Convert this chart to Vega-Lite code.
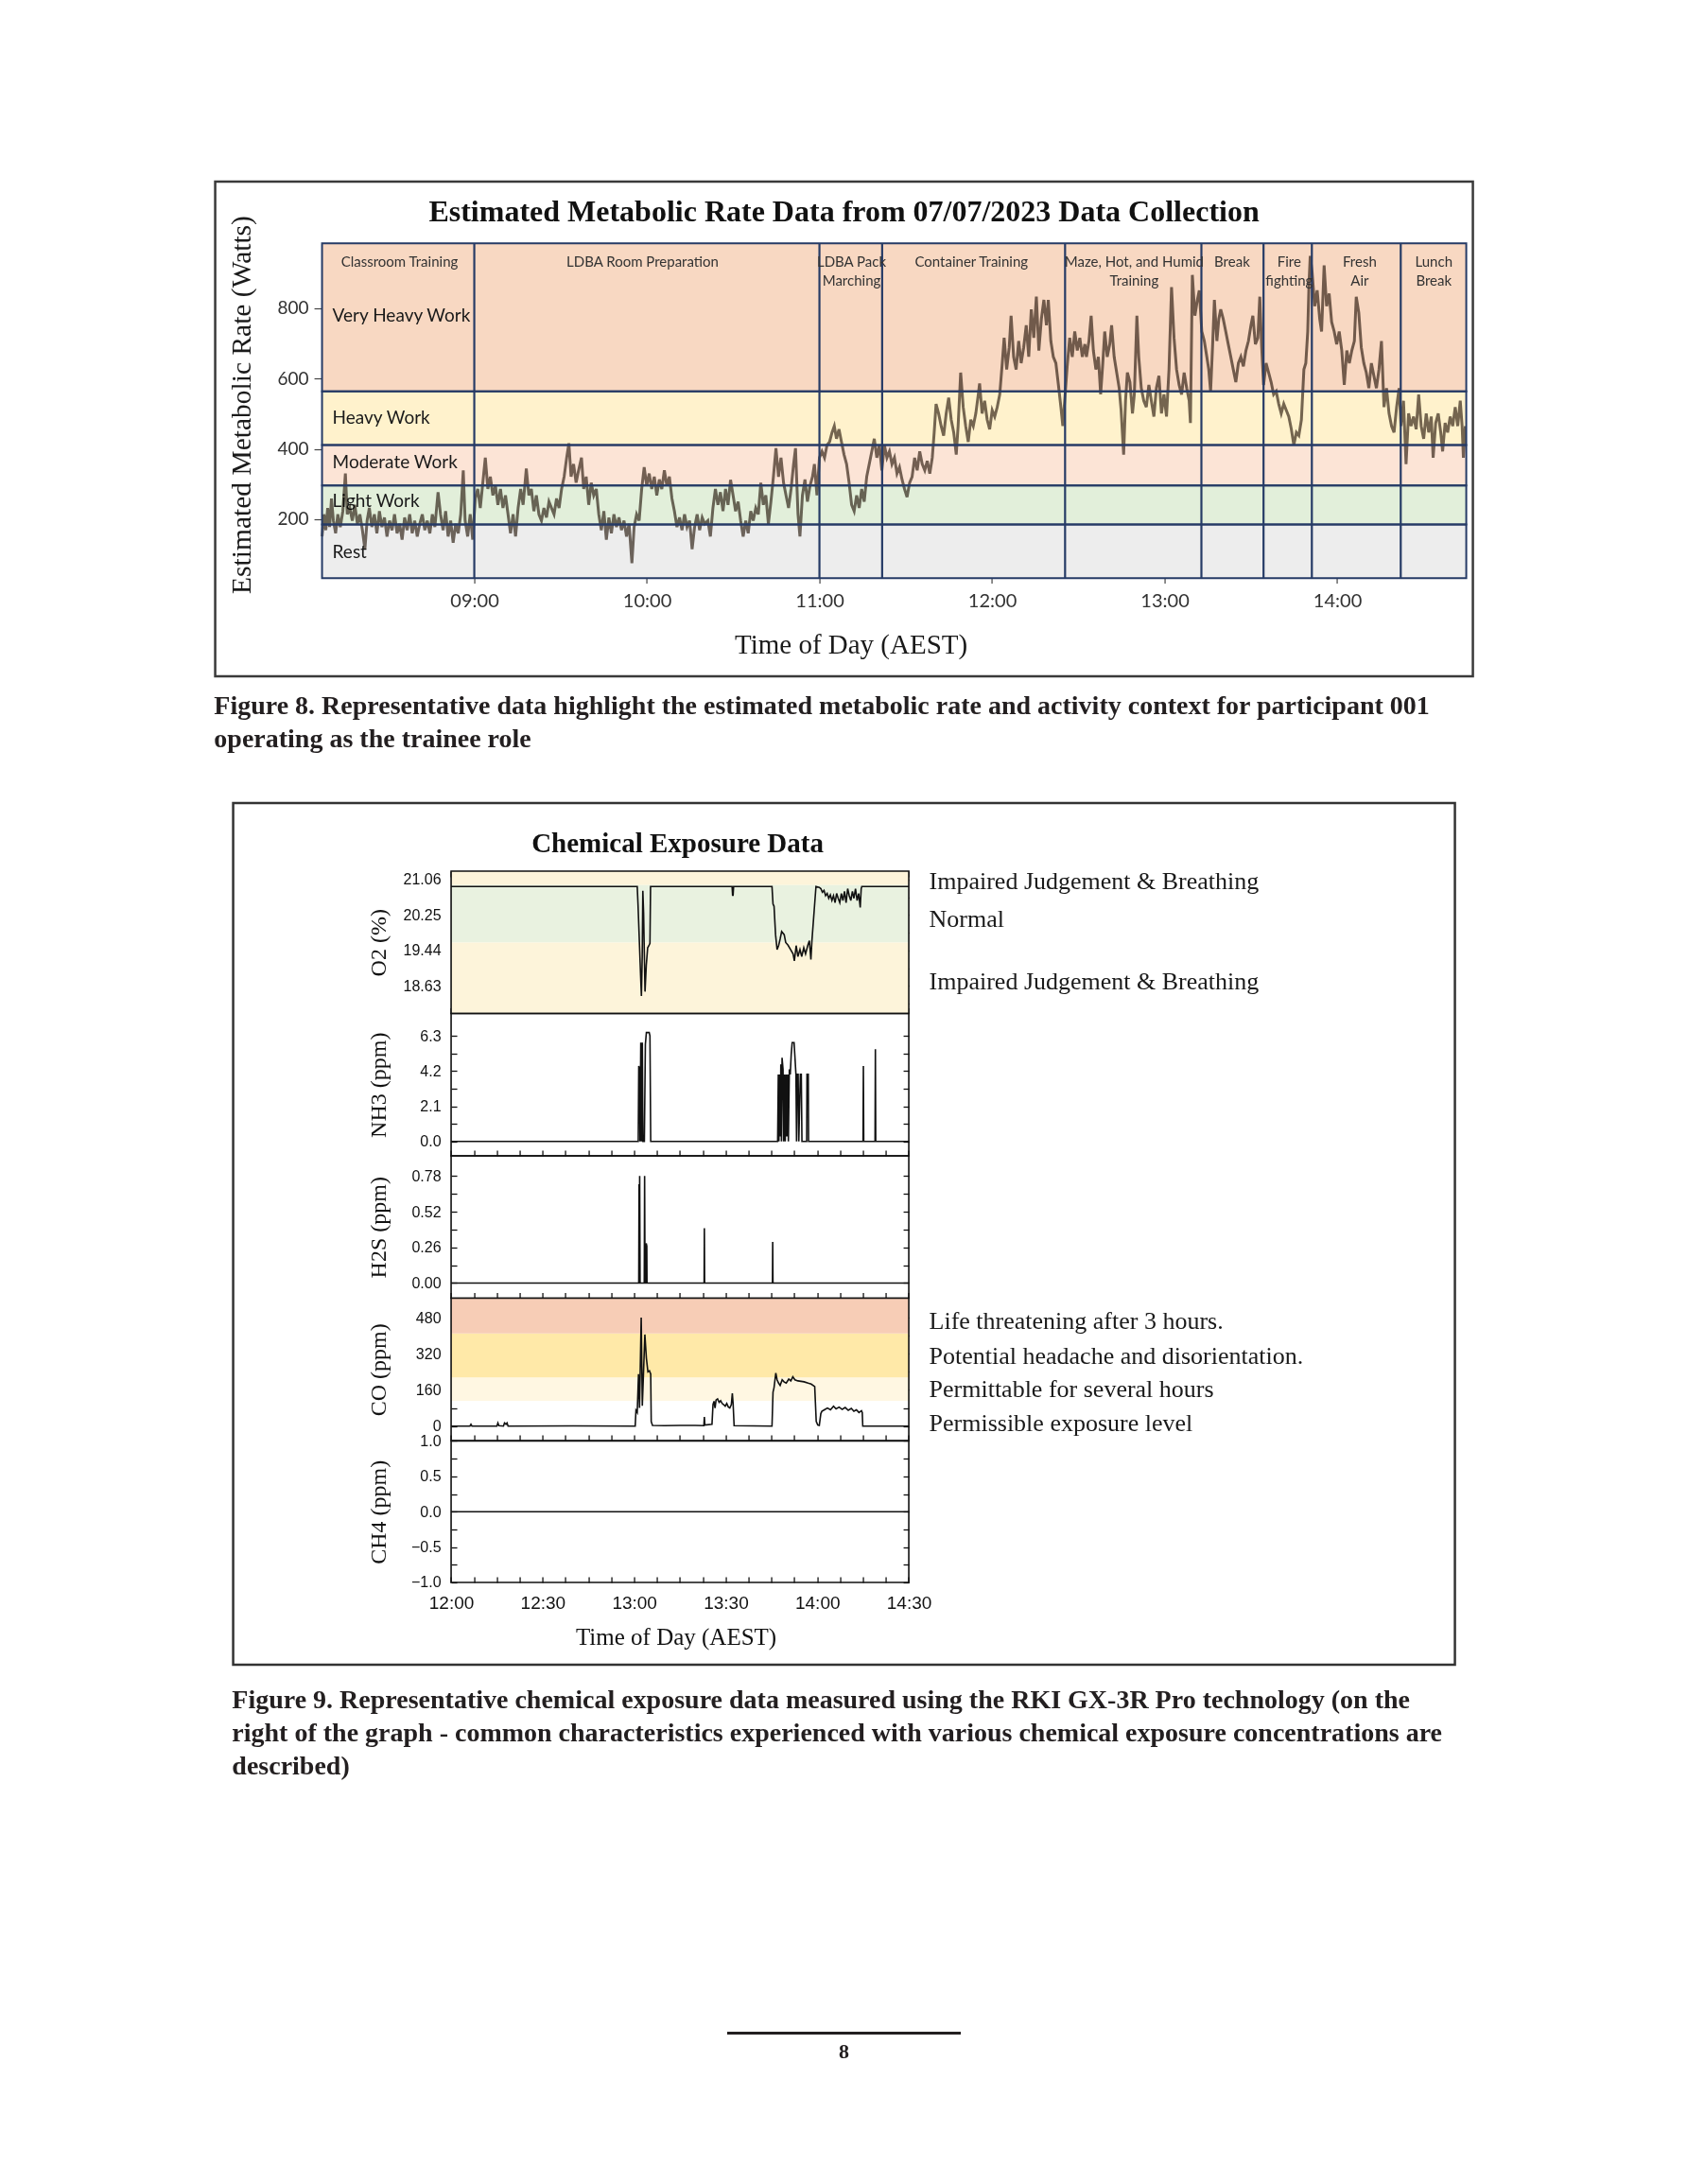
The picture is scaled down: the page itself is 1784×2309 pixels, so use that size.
{
"$schema":"https://vega.github.io/schema/vega-lite/v6.json",
"background":"white",
"padding":{"left":226,"top":190,"right":0,"bottom":0},
"config":{"view":{"stroke":null},"axis":{"grid":false,"domain":false,"labelFlush":false,"labelOverlap":false}},
"datasets":{
"zones":[{"zone":"Rest","lo":32.6,"hi":185,"lw":106},{"zone":"Light Work","lo":185,"hi":296,"lw":251},{"zone":"Moderate Work","lo":296,"hi":411,"lw":362},{"zone":"Heavy Work","lo":411,"hi":563.6,"lw":487},{"zone":"Very Heavy Work","lo":563.6,"hi":985,"lw":779}],
"actbounds":[{"t":"09:00:00"},{"t":"11:00:00"},{"t":"11:21:48"},{"t":"12:25:24"},{"t":"13:12:48"},{"t":"13:34:24"},{"t":"13:51:12"},{"t":"14:22:06"}],
"actlabels":[{"t":"08:34:00","lab":"Classroom Training"},{"t":"09:58:30","lab":"LDBA Room Preparation"},{"t":"11:11:10","lab":"LDBA Pack\nMarching"},{"t":"11:52:50","lab":"Container Training"},{"t":"12:49:25","lab":"Maze, Hot, and Humid\nTraining"},{"t":"13:23:28","lab":"Break"},{"t":"13:43:20","lab":"Fire\nfighting"},{"t":"14:07:50","lab":"Fresh\nAir"},{"t":"14:33:36","lab":"Lunch\nBreak"}],
"metab":[{"t":"08:07:04","w":151},{"t":"08:07:44","w":214},{"t":"08:08:23","w":169},{"t":"08:09:02","w":232},{"t":"08:09:42","w":178},{"t":"08:10:21","w":259},{"t":"08:11:01","w":196},{"t":"08:11:47","w":160},{"t":"08:12:33","w":214},{"t":"08:13:25","w":178},{"t":"08:14:18","w":223},{"t":"08:15:11","w":330},{"t":"08:15:50","w":214},{"t":"08:16:43","w":232},{"t":"08:17:35","w":196},{"t":"08:18:28","w":241},{"t":"08:19:21","w":187},{"t":"08:20:13","w":214},{"t":"08:21:06","w":169},{"t":"08:21:58","w":115},{"t":"08:22:44","w":196},{"t":"08:23:30","w":232},{"t":"08:24:23","w":178},{"t":"08:25:16","w":214},{"t":"08:26:08","w":160},{"t":"08:27:01","w":223},{"t":"08:27:53","w":178},{"t":"08:28:46","w":205},{"t":"08:29:39","w":151},{"t":"08:30:31","w":196},{"t":"08:31:24","w":169},{"t":"08:32:16","w":214},{"t":"08:33:09","w":160},{"t":"08:34:02","w":187},{"t":"08:34:54","w":142},{"t":"08:35:47","w":205},{"t":"08:36:39","w":169},{"t":"08:37:32","w":214},{"t":"08:38:25","w":160},{"t":"08:39:17","w":196},{"t":"08:40:10","w":151},{"t":"08:41:02","w":187},{"t":"08:41:55","w":214},{"t":"08:42:48","w":169},{"t":"08:43:40","w":196},{"t":"08:44:33","w":160},{"t":"08:45:25","w":214},{"t":"08:46:18","w":178},{"t":"08:47:24","w":277},{"t":"08:48:16","w":214},{"t":"08:49:09","w":169},{"t":"08:50:02","w":223},{"t":"08:50:54","w":151},{"t":"08:51:47","w":196},{"t":"08:52:39","w":133},{"t":"08:53:32","w":187},{"t":"08:54:25","w":160},{"t":"08:55:17","w":214},{"t":"08:56:10","w":339},{"t":"08:56:49","w":196},{"t":"08:57:42","w":151},{"t":"08:58:35","w":214},{"t":"08:59:27","w":142},{"t":"09:00:20","w":259},{"t":"09:01:12","w":286},{"t":"09:02:05","w":232},{"t":"09:02:58","w":304},{"t":"09:03:50","w":375},{"t":"09:04:43","w":286},{"t":"09:05:35","w":321},{"t":"09:06:28","w":268},{"t":"09:07:21","w":295},{"t":"09:08:13","w":241},{"t":"09:09:06","w":286},{"t":"09:09:58","w":232},{"t":"09:10:51","w":268},{"t":"09:11:44","w":214},{"t":"09:12:36","w":160},{"t":"09:13:29","w":214},{"t":"09:14:21","w":151},{"t":"09:15:14","w":232},{"t":"09:16:07","w":286},{"t":"09:16:59","w":241},{"t":"09:18:05","w":344},{"t":"09:18:58","w":268},{"t":"09:19:50","w":286},{"t":"09:20:43","w":223},{"t":"09:21:35","w":268},{"t":"09:22:28","w":214},{"t":"09:23:21","w":196},{"t":"09:24:13","w":232},{"t":"09:25:06","w":205},{"t":"09:25:58","w":250},{"t":"09:26:51","w":232},{"t":"09:27:44","w":214},{"t":"09:28:36","w":259},{"t":"09:29:29","w":232},{"t":"09:30:21","w":286},{"t":"09:31:14","w":321},{"t":"09:32:07","w":375},{"t":"09:32:53","w":416},{"t":"09:33:39","w":321},{"t":"09:34:31","w":357},{"t":"09:35:24","w":304},{"t":"09:36:16","w":339},{"t":"09:37:16","w":375},{"t":"09:38:02","w":286},{"t":"09:38:54","w":321},{"t":"09:39:47","w":241},{"t":"09:40:39","w":304},{"t":"09:41:32","w":268},{"t":"09:42:25","w":286},{"t":"09:43:17","w":214},{"t":"09:44:10","w":169},{"t":"09:45:03","w":223},{"t":"09:45:55","w":142},{"t":"09:46:48","w":205},{"t":"09:47:40","w":160},{"t":"09:48:33","w":214},{"t":"09:49:26","w":178},{"t":"09:50:18","w":205},{"t":"09:51:11","w":169},{"t":"09:52:03","w":196},{"t":"09:52:56","w":151},{"t":"09:53:49","w":187},{"t":"09:54:48","w":75},{"t":"09:55:34","w":178},{"t":"09:56:26","w":214},{"t":"09:57:19","w":196},{"t":"09:58:12","w":286},{"t":"09:59:04","w":348},{"t":"09:59:57","w":295},{"t":"10:00:49","w":330},{"t":"10:01:42","w":286},{"t":"10:02:35","w":321},{"t":"10:03:27","w":268},{"t":"10:04:20","w":313},{"t":"10:05:12","w":286},{"t":"10:06:05","w":339},{"t":"10:06:58","w":295},{"t":"10:07:50","w":321},{"t":"10:08:43","w":259},{"t":"10:09:35","w":223},{"t":"10:10:28","w":178},{"t":"10:11:21","w":205},{"t":"10:12:13","w":169},{"t":"10:13:06","w":214},{"t":"10:13:58","w":178},{"t":"10:14:51","w":196},{"t":"10:15:44","w":115},{"t":"10:16:36","w":178},{"t":"10:17:29","w":214},{"t":"10:18:21","w":169},{"t":"10:19:14","w":205},{"t":"10:20:07","w":187},{"t":"10:21:13","w":196},{"t":"10:22:05","w":151},{"t":"10:22:58","w":232},{"t":"10:23:50","w":286},{"t":"10:24:43","w":241},{"t":"10:25:35","w":277},{"t":"10:26:28","w":223},{"t":"10:27:21","w":286},{"t":"10:28:13","w":241},{"t":"10:29:06","w":312},{"t":"10:29:59","w":268},{"t":"10:30:51","w":223},{"t":"10:31:44","w":250},{"t":"10:32:37","w":196},{"t":"10:33:29","w":151},{"t":"10:34:22","w":196},{"t":"10:35:14","w":160},{"t":"10:36:07","w":223},{"t":"10:36:59","w":196},{"t":"10:37:52","w":232},{"t":"10:38:44","w":214},{"t":"10:39:37","w":304},{"t":"10:40:30","w":241},{"t":"10:41:22","w":268},{"t":"10:42:15","w":187},{"t":"10:43:08","w":250},{"t":"10:44:00","w":321},{"t":"10:44:53","w":402},{"t":"10:45:46","w":321},{"t":"10:46:38","w":375},{"t":"10:47:31","w":304},{"t":"10:48:23","w":268},{"t":"10:49:16","w":232},{"t":"10:50:08","w":286},{"t":"10:51:01","w":357},{"t":"10:51:41","w":402},{"t":"10:52:33","w":214},{"t":"10:53:13","w":151},{"t":"10:54:05","w":268},{"t":"10:54:58","w":313},{"t":"10:55:50","w":250},{"t":"10:56:43","w":295},{"t":"10:57:35","w":321},{"t":"10:58:15","w":357},{"t":"10:59:08","w":268},{"t":"11:00:00","w":375},{"t":"11:00:53","w":393},{"t":"11:01:46","w":375},{"t":"11:02:38","w":411},{"t":"11:03:31","w":420},{"t":"11:04:23","w":447},{"t":"11:05:10","w":465},{"t":"11:05:55","w":429},{"t":"11:06:48","w":456},{"t":"11:07:40","w":420},{"t":"11:08:33","w":384},{"t":"11:09:26","w":357},{"t":"11:10:19","w":304},{"t":"11:11:11","w":241},{"t":"11:12:04","w":223},{"t":"11:12:56","w":268},{"t":"11:13:49","w":232},{"t":"11:14:41","w":286},{"t":"11:15:34","w":250},{"t":"11:16:26","w":321},{"t":"11:17:19","w":357},{"t":"11:18:12","w":393},{"t":"11:19:04","w":429},{"t":"11:19:57","w":375},{"t":"11:20:50","w":411},{"t":"11:21:42","w":339},{"t":"11:22:35","w":411},{"t":"11:23:28","w":375},{"t":"11:24:20","w":393},{"t":"11:25:13","w":357},{"t":"11:26:05","w":375},{"t":"11:26:58","w":330},{"t":"11:27:50","w":348},{"t":"11:28:43","w":313},{"t":"11:29:35","w":286},{"t":"11:30:28","w":263},{"t":"11:31:21","w":304},{"t":"11:32:13","w":321},{"t":"11:33:06","w":375},{"t":"11:33:59","w":339},{"t":"11:34:52","w":393},{"t":"11:35:44","w":357},{"t":"11:36:37","w":339},{"t":"11:37:29","w":366},{"t":"11:38:22","w":330},{"t":"11:39:14","w":375},{"t":"11:39:54","w":447},{"t":"11:40:33","w":528},{"t":"11:41:26","w":501},{"t":"11:42:19","w":465},{"t":"11:43:11","w":438},{"t":"11:44:04","w":501},{"t":"11:44:56","w":546},{"t":"11:45:49","w":483},{"t":"11:46:41","w":447},{"t":"11:47:34","w":384},{"t":"11:48:13","w":465},{"t":"11:49:06","w":617},{"t":"11:49:59","w":519},{"t":"11:50:51","w":465},{"t":"11:51:44","w":420},{"t":"11:52:37","w":483},{"t":"11:53:29","w":465},{"t":"11:54:22","w":501},{"t":"11:55:14","w":555},{"t":"11:55:41","w":586},{"t":"11:56:33","w":501},{"t":"11:57:26","w":537},{"t":"11:58:19","w":483},{"t":"11:59:11","w":456},{"t":"12:00:04","w":510},{"t":"12:00:56","w":492},{"t":"12:01:49","w":519},{"t":"12:02:41","w":555},{"t":"12:03:34","w":644},{"t":"12:04:13","w":716},{"t":"12:05:06","w":626},{"t":"12:05:59","w":689},{"t":"12:06:38","w":779},{"t":"12:07:31","w":662},{"t":"12:08:23","w":626},{"t":"12:09:16","w":707},{"t":"12:10:08","w":644},{"t":"12:11:01","w":689},{"t":"12:11:54","w":752},{"t":"12:12:46","w":662},{"t":"12:13:39","w":797},{"t":"12:14:32","w":716},{"t":"12:15:25","w":833},{"t":"12:16:17","w":680},{"t":"12:17:10","w":770},{"t":"12:18:02","w":824},{"t":"12:18:55","w":752},{"t":"12:19:34","w":824},{"t":"12:20:27","w":707},{"t":"12:21:19","w":662},{"t":"12:22:12","w":644},{"t":"12:23:05","w":582},{"t":"12:23:57","w":519},{"t":"12:24:37","w":465},{"t":"12:25:16","w":537},{"t":"12:26:08","w":635},{"t":"12:27:01","w":716},{"t":"12:27:54","w":662},{"t":"12:28:46","w":734},{"t":"12:29:39","w":680},{"t":"12:30:32","w":716},{"t":"12:31:24","w":662},{"t":"12:32:17","w":698},{"t":"12:32:50","w":662},{"t":"12:33:42","w":707},{"t":"12:34:28","w":779},{"t":"12:35:14","w":680},{"t":"12:36:07","w":626},{"t":"12:36:59","w":662},{"t":"12:37:46","w":555},{"t":"12:38:31","w":644},{"t":"12:39:11","w":734},{"t":"12:40:04","w":662},{"t":"12:40:56","w":698},{"t":"12:41:35","w":752},{"t":"12:42:28","w":662},{"t":"12:43:21","w":617},{"t":"12:44:13","w":573},{"t":"12:44:53","w":510},{"t":"12:45:46","w":384},{"t":"12:46:25","w":537},{"t":"12:47:04","w":617},{"t":"12:47:57","w":590},{"t":"12:48:50","w":501},{"t":"12:49:29","w":555},{"t":"12:50:22","w":779},{"t":"12:51:01","w":662},{"t":"12:51:54","w":573},{"t":"12:52:46","w":537},{"t":"12:53:39","w":519},{"t":"12:54:32","w":582},{"t":"12:55:24","w":537},{"t":"12:56:17","w":492},{"t":"12:57:09","w":573},{"t":"12:58:02","w":608},{"t":"12:58:55","w":501},{"t":"12:59:47","w":555},{"t":"13:00:40","w":492},{"t":"13:01:32","w":626},{"t":"13:02:25","w":860},{"t":"13:03:17","w":716},{"t":"13:04:10","w":626},{"t":"13:05:03","w":582},{"t":"13:05:55","w":555},{"t":"13:06:48","w":617},{"t":"13:07:41","w":573},{"t":"13:08:33","w":537},{"t":"13:08:59","w":474},{"t":"13:09:39","w":895},{"t":"13:10:32","w":779},{"t":"13:11:24","w":824},{"t":"13:12:04","w":851},{"t":"13:12:56","w":734},{"t":"13:13:49","w":707},{"t":"13:14:41","w":662},{"t":"13:15:21","w":626},{"t":"13:16:00","w":564},{"t":"13:16:40","w":689},{"t":"13:17:19","w":824},{"t":"13:18:11","w":707},{"t":"13:18:51","w":770},{"t":"13:19:31","w":797},{"t":"13:20:23","w":770},{"t":"13:21:16","w":734},{"t":"13:22:08","w":698},{"t":"13:23:01","w":662},{"t":"13:23:53","w":626},{"t":"13:24:46","w":590},{"t":"13:25:39","w":644},{"t":"13:26:31","w":662},{"t":"13:27:24","w":635},{"t":"13:28:17","w":680},{"t":"13:29:09","w":707},{"t":"13:30:02","w":752},{"t":"13:30:41","w":779},{"t":"13:31:34","w":698},{"t":"13:32:26","w":716},{"t":"13:33:06","w":833},{"t":"13:33:46","w":689},{"t":"13:34:25","w":582},{"t":"13:35:17","w":644},{"t":"13:36:10","w":617},{"t":"13:37:03","w":590},{"t":"13:37:55","w":555},{"t":"13:38:48","w":564},{"t":"13:39:41","w":528},{"t":"13:40:33","w":501},{"t":"13:41:26","w":528},{"t":"13:42:19","w":510},{"t":"13:43:11","w":492},{"t":"13:44:04","w":456},{"t":"13:44:56","w":411},{"t":"13:45:49","w":447},{"t":"13:46:41","w":438},{"t":"13:47:34","w":483},{"t":"13:48:26","w":626},{"t":"13:49:06","w":644},{"t":"13:49:46","w":734},{"t":"13:50:12","w":868},{"t":"13:50:38","w":949},{"t":"13:51:17","w":904},{"t":"13:52:10","w":806},{"t":"13:53:03","w":851},{"t":"13:53:56","w":770},{"t":"13:54:35","w":734},{"t":"13:55:28","w":922},{"t":"13:56:20","w":806},{"t":"13:57:13","w":842},{"t":"13:58:05","w":761},{"t":"13:58:58","w":734},{"t":"13:59:50","w":698},{"t":"14:00:43","w":734},{"t":"14:01:36","w":680},{"t":"14:02:28","w":582},{"t":"14:03:21","w":680},{"t":"14:04:14","w":644},{"t":"14:05:06","w":680},{"t":"14:05:59","w":707},{"t":"14:06:38","w":833},{"t":"14:07:31","w":788},{"t":"14:08:23","w":689},{"t":"14:09:16","w":644},{"t":"14:10:08","w":617},{"t":"14:11:01","w":573},{"t":"14:11:54","w":644},{"t":"14:12:46","w":608},{"t":"14:13:39","w":573},{"t":"14:14:32","w":626},{"t":"14:15:24","w":707},{"t":"14:16:17","w":519},{"t":"14:17:10","w":573},{"t":"14:18:02","w":501},{"t":"14:18:55","w":465},{"t":"14:19:47","w":447},{"t":"14:20:40","w":519},{"t":"14:21:32","w":573},{"t":"14:22:12","w":465},{"t":"14:23:04","w":537},{"t":"14:23:57","w":357},{"t":"14:24:50","w":501},{"t":"14:25:42","w":465},{"t":"14:26:35","w":492},{"t":"14:27:28","w":456},{"t":"14:28:20","w":555},{"t":"14:29:13","w":465},{"t":"14:30:05","w":429},{"t":"14:30:58","w":501},{"t":"14:31:50","w":447},{"t":"14:32:43","w":492},{"t":"14:33:22","w":375},{"t":"14:34:15","w":474},{"t":"14:35:08","w":501},{"t":"14:36:00","w":447},{"t":"14:36:40","w":393},{"t":"14:37:32","w":474},{"t":"14:38:25","w":447},{"t":"14:39:17","w":492},{"t":"14:40:10","w":465},{"t":"14:41:03","w":519},{"t":"14:41:55","w":465},{"t":"14:42:48","w":537},{"t":"14:43:27","w":465},{"t":"14:43:53","w":375},{"t":"14:44:33","w":465}],
"o2":[{"t":"12:00:00","v":20.9},{"t":"13:01:00","v":20.9},{"t":"13:01:15","v":20.5},{"t":"13:01:40","v":19.7},{"t":"13:02:05","v":18.9},{"t":"13:02:22","v":18.4},{"t":"13:02:38","v":19.3},{"t":"13:02:50","v":20.8},{"t":"13:03:05","v":20.3},{"t":"13:03:22","v":19.2},{"t":"13:03:33","v":18.5},{"t":"13:03:58","v":19.1},{"t":"13:04:25","v":19.5},{"t":"13:04:50","v":19.55},{"t":"13:05:10","v":19.6},{"t":"13:05:22","v":20.9},{"t":"13:32:05","v":20.9},{"t":"13:32:15","v":20.7},{"t":"13:32:25","v":20.7},{"t":"13:32:35","v":20.9},{"t":"13:45:10","v":20.9},{"t":"13:45:30","v":20.5},{"t":"13:45:50","v":20.45},{"t":"13:46:20","v":19.8},{"t":"13:46:50","v":19.46},{"t":"13:47:20","v":19.55},{"t":"13:47:50","v":19.7},{"t":"13:48:20","v":19.87},{"t":"13:49:10","v":19.8},{"t":"13:49:40","v":19.62},{"t":"13:50:25","v":19.56},{"t":"13:51:15","v":19.46},{"t":"13:52:05","v":19.36},{"t":"13:52:30","v":19.2},{"t":"13:53:05","v":19.55},{"t":"13:53:40","v":19.3},{"t":"13:54:20","v":19.46},{"t":"13:54:55","v":19.3},{"t":"13:55:35","v":19.5},{"t":"13:56:10","v":19.36},{"t":"13:56:55","v":19.56},{"t":"13:57:25","v":19.66},{"t":"13:57:55","v":19.23},{"t":"13:58:15","v":19.66},{"t":"13:59:00","v":20.36},{"t":"13:59:35","v":20.9},{"t":"14:00:40","v":20.88},{"t":"14:01:11","v":20.85},{"t":"14:01:41","v":20.77},{"t":"14:02:13","v":20.81},{"t":"14:02:44","v":20.69},{"t":"14:03:15","v":20.74},{"t":"14:03:46","v":20.63},{"t":"14:04:17","v":20.71},{"t":"14:04:48","v":20.58},{"t":"14:05:19","v":20.69},{"t":"14:05:50","v":20.53},{"t":"14:06:21","v":20.74},{"t":"14:06:52","v":20.63},{"t":"14:07:23","v":20.53},{"t":"14:07:54","v":20.74},{"t":"14:08:25","v":20.58},{"t":"14:08:56","v":20.79},{"t":"14:09:27","v":20.53},{"t":"14:09:58","v":20.85},{"t":"14:10:29","v":20.69},{"t":"14:11:00","v":20.58},{"t":"14:11:31","v":20.79},{"t":"14:12:01","v":20.63},{"t":"14:12:32","v":20.85},{"t":"14:13:04","v":20.58},{"t":"14:13:35","v":20.74},{"t":"14:14:05","v":20.42},{"t":"14:14:24","v":20.85},{"t":"14:14:36","v":20.9},{"t":"14:30:00","v":20.9}],
"nh3":[{"t":"12:00:00","v":0},{"t":"13:01:20","v":0},{"t":"13:01:30","v":4.5},{"t":"13:01:45","v":4.3},{"t":"13:01:55","v":0},{"t":"13:02:10","v":5.9},{"t":"13:02:22","v":0},{"t":"13:02:40","v":5.9},{"t":"13:02:52","v":0},{"t":"13:03:20","v":0},{"t":"13:03:40","v":5.8},{"t":"13:04:00","v":6.5},{"t":"13:04:55","v":6.5},{"t":"13:05:10","v":6.3},{"t":"13:05:25","v":0},{"t":"13:47:01","v":0},{"t":"13:47:14","v":4.0},{"t":"13:47:26","v":0},{"t":"13:47:39","v":4.0},{"t":"13:47:51","v":0.3},{"t":"13:48:04","v":4.6},{"t":"13:48:16","v":0},{"t":"13:48:28","v":5.0},{"t":"13:48:47","v":4.3},{"t":"13:48:59","v":0},{"t":"13:49:18","v":4.0},{"t":"13:49:30","v":0},{"t":"13:49:49","v":4.0},{"t":"13:50:01","v":0.3},{"t":"13:50:20","v":4.0},{"t":"13:50:32","v":0},{"t":"13:50:51","v":4.3},{"t":"13:51:09","v":4.0},{"t":"13:51:28","v":5.2},{"t":"13:51:47","v":5.9},{"t":"13:52:24","v":5.9},{"t":"13:52:42","v":5.0},{"t":"13:53:01","v":4.0},{"t":"13:53:13","v":0},{"t":"13:53:26","v":4.0},{"t":"13:53:44","v":4.0},{"t":"13:53:57","v":0},{"t":"13:54:28","v":4.0},{"t":"13:54:46","v":4.0},{"t":"13:54:59","v":0},{"t":"13:56:32","v":0},{"t":"13:56:38","v":4.0},{"t":"13:57:03","v":4.0},{"t":"13:57:09","v":0},{"t":"14:15:00","v":0},{"t":"14:15:07","v":4.5},{"t":"14:15:14","v":0},{"t":"14:18:56","v":0},{"t":"14:19:03","v":5.5},{"t":"14:19:10","v":0},{"t":"14:30:00","v":0}],
"h2s":[{"t":"12:00:00","v":0},{"t":"13:01:30","v":0},{"t":"13:01:36","v":0.72},{"t":"13:01:42","v":0.1},{"t":"13:01:48","v":0.78},{"t":"13:01:56","v":0},{"t":"13:03:18","v":0},{"t":"13:03:25","v":0.78},{"t":"13:03:33","v":0},{"t":"13:03:50","v":0},{"t":"13:03:56","v":0.29},{"t":"13:04:08","v":0.27},{"t":"13:04:12","v":0},{"t":"13:22:55","v":0},{"t":"13:23:00","v":0.4},{"t":"13:23:05","v":0},{"t":"13:45:19","v":0},{"t":"13:45:24","v":0.3},{"t":"13:45:29","v":0},{"t":"14:30:00","v":0}],
"co":[{"t":"12:00:00","v":0},{"t":"12:06:10","v":0},{"t":"12:06:30","v":8},{"t":"12:06:50","v":0},{"t":"12:15:00","v":0},{"t":"12:15:20","v":14},{"t":"12:15:40","v":2},{"t":"12:17:10","v":0},{"t":"12:17:30","v":14},{"t":"12:18:00","v":8},{"t":"12:18:20","v":14},{"t":"12:18:40","v":0},{"t":"12:40:00","v":1},{"t":"13:00:20","v":0},{"t":"13:00:35","v":70},{"t":"13:01:00","v":60},{"t":"13:01:25","v":230},{"t":"13:01:45","v":80},{"t":"13:02:18","v":480},{"t":"13:02:40","v":90},{"t":"13:03:30","v":405},{"t":"13:04:00","v":300},{"t":"13:04:30","v":240},{"t":"13:05:00","v":245},{"t":"13:05:25","v":230},{"t":"13:05:35","v":20},{"t":"13:06:00","v":3},{"t":"13:10:00","v":2},{"t":"13:15:00","v":3},{"t":"13:20:00","v":3},{"t":"13:22:50","v":2},{"t":"13:23:00","v":40},{"t":"13:23:10","v":5},{"t":"13:25:30","v":8},{"t":"13:25:50","v":95},{"t":"13:26:10","v":110},{"t":"13:26:30","v":80},{"t":"13:26:50","v":115},{"t":"13:27:20","v":120},{"t":"13:27:50","v":105},{"t":"13:28:20","v":112},{"t":"13:28:50","v":100},{"t":"13:29:20","v":95},{"t":"13:29:50","v":88},{"t":"13:30:20","v":100},{"t":"13:30:50","v":85},{"t":"13:31:20","v":80},{"t":"13:31:50","v":95},{"t":"13:32:10","v":145},{"t":"13:32:25","v":100},{"t":"13:32:45","v":2},{"t":"13:45:10","v":0},{"t":"13:45:30","v":150},{"t":"13:45:50","v":170},{"t":"13:46:25","v":235},{"t":"13:46:50","v":205},{"t":"13:47:20","v":190},{"t":"13:47:50","v":180},{"t":"13:48:30","v":205},{"t":"13:49:10","v":195},{"t":"13:49:50","v":190},{"t":"13:50:40","v":208},{"t":"13:51:20","v":200},{"t":"13:52:00","v":218},{"t":"13:52:40","v":205},{"t":"13:53:40","v":200},{"t":"13:54:40","v":198},{"t":"13:55:40","v":196},{"t":"13:57:00","v":190},{"t":"13:58:00","v":186},{"t":"13:59:10","v":175},{"t":"13:59:40","v":20},{"t":"14:00:10","v":5},{"t":"14:00:40","v":3},{"t":"14:01:10","v":55},{"t":"14:01:30","v":65},{"t":"14:02:20","v":72},{"t":"14:03:20","v":80},{"t":"14:04:20","v":72},{"t":"14:05:20","v":88},{"t":"14:06:10","v":76},{"t":"14:07:10","v":84},{"t":"14:08:10","v":74},{"t":"14:09:10","v":82},{"t":"14:10:10","v":70},{"t":"14:11:10","v":78},{"t":"14:12:00","v":66},{"t":"14:12:50","v":72},{"t":"14:13:40","v":60},{"t":"14:14:30","v":68},{"t":"14:14:45","v":60},{"t":"14:14:55","v":0},{"t":"14:30:00","v":0}],
"ch4":[{"t":"12:00:00","v":0},{"t":"14:30:00","v":0}]
},
"vconcat":[
{"vconcat":[
{"title":{"text":["Figure 8.  Representative data highlight the estimated metabolic rate and activity context for participant 001","operating as the trainee role"],"orient":"bottom","anchor":"start","font":"Liberation Serif","fontSize":28,"fontWeight":"bold","color":"#231f20","lineHeight":35,"offset":17,"baseline":"top"},
"vconcat":[
{"width":1330,"height":523,"view":{"stroke":"#3a3a3a","strokeWidth":2.5},
"title":{"text":"Estimated Metabolic Rate Data from 07/07/2023 Data Collection","font":"Liberation Serif","fontSize":32,"fontWeight":"bold","color":"#111","anchor":"middle","offset":-63.5,"baseline":"middle"},
"layer":[
{"data":{"name":"zones"},"mark":{"type":"rect"},
"encoding":{
"x":{"datum":{"year":1900,"month":1,"date":1,"hours":8,"minutes":7,"seconds":4},"type":"temporal","scale":{"domain":[{"year":1900,"month":1,"date":1,"hours":7,"minutes":29,"seconds":55},{"year":1900,"month":1,"date":1,"hours":14,"minutes":47,"seconds":11}]},
"axis":{"orient":"bottom","offset":-104.5,"values":[{"year":1900,"month":1,"date":1,"hours":9,"minutes":0},{"year":1900,"month":1,"date":1,"hours":10,"minutes":0},{"year":1900,"month":1,"date":1,"hours":11,"minutes":0},{"year":1900,"month":1,"date":1,"hours":12,"minutes":0},{"year":1900,"month":1,"date":1,"hours":13,"minutes":0},{"year":1900,"month":1,"date":1,"hours":14,"minutes":0}],"format":"%H:%M","labelFont":"Lato","labelFontSize":20,"labelColor":"#333","tickSize":6,"tickColor":"#444","tickWidth":1.2,"labelPadding":9,"title":"Time of Day (AEST)","titleFont":"Liberation Serif","titleFontSize":29,"titleFontWeight":"normal","titleColor":"#1a1a1a","titleX":672,"titleY":71,"titleAlign":"center","titleBaseline":"middle"}},
"x2":{"datum":{"year":1900,"month":1,"date":1,"hours":14,"minutes":44,"seconds":53}},
"y":{"field":"lo","type":"quantitative","scale":{"domain":[-246.7,1160.4],"nice":false,"zero":false},
"axis":{"orient":"left","offset":-112.5,"values":[200,400,600,800],"labelFont":"Lato","labelFontSize":19,"labelColor":"#333","tickSize":8,"tickColor":"#444","tickWidth":1.2,"labelPadding":6,"title":"Estimated Metabolic Rate (Watts)","titleFont":"Liberation Serif","titleFontSize":29.5,"titleFontWeight":"normal","titleColor":"#1a1a1a","titleX":-84.5,"titleY":235.5,"titleAngle":-90,"titleAlign":"center","titleBaseline":"middle"}},
"y2":{"field":"hi"},
"color":{"field":"zone","type":"nominal","scale":{"domain":["Rest","Light Work","Moderate Work","Heavy Work","Very Heavy Work"],"range":["#ededed","#e2efda","#fce4d6","#fff2cc","#f8d8c2"]},"legend":null}}},
{"data":{"name":"zones"},"mark":{"type":"text","align":"left","baseline":"middle","dx":11,"font":"Lato","fontSize":19,"color":"#1a1a1a"},
"encoding":{"x":{"datum":{"year":1900,"month":1,"date":1,"hours":8,"minutes":7,"seconds":4},"type":"temporal"},"y":{"field":"lw","type":"quantitative"},"text":{"field":"zone"}}},
{"data":{"name":"metab","format":{"parse":{"t":"date:'%H:%M:%S'"}}},"mark":{"type":"line","color":"#746a62","strokeWidth":3,"blend":"multiply"},
"encoding":{"x":{"field":"t","type":"temporal"},"y":{"field":"w","type":"quantitative"}}},
{"data":{"name":"zones"},"mark":{"type":"rect","filled":false,"stroke":"#263b66","strokeWidth":2},
"encoding":{"x":{"datum":{"year":1900,"month":1,"date":1,"hours":8,"minutes":7,"seconds":4},"type":"temporal"},"x2":{"datum":{"year":1900,"month":1,"date":1,"hours":14,"minutes":44,"seconds":53}},"y":{"field":"lo","type":"quantitative"},"y2":{"field":"hi"}}},
{"data":{"name":"actbounds","format":{"parse":{"t":"date:'%H:%M:%S'"}}},"mark":{"type":"rule","color":"#263b66","strokeWidth":2.2},
"encoding":{"x":{"field":"t","type":"temporal"},"y":{"datum":32.6,"type":"quantitative"},"y2":{"datum":985}}},
{"data":{"name":"actlabels","format":{"parse":{"t":"date:'%H:%M:%S'"}}},"mark":{"type":"text","align":"center","baseline":"top","font":"Lato","fontSize":15,"lineHeight":20,"lineBreak":"\n","color":"#333"},
"encoding":{"x":{"field":"t","type":"temporal"},"y":{"datum":951,"type":"quantitative"},"text":{"field":"lab"}}}
]}
]},
{"title":{"text":["Figure 9.  Representative chemical exposure data measured using the RKI GX-3R Pro technology (on the","right of the graph - common characteristics experienced with various chemical exposure concentrations are","described)"],"orient":"bottom","anchor":"start","font":"Liberation Serif","fontSize":28,"fontWeight":"bold","color":"#231f20","lineHeight":35,"offset":23,"baseline":"top"},
"vconcat":[
{"width":1292,"height":911,"view":{"stroke":"#333","strokeWidth":2.5},
"title":{"text":"Chemical Exposure Data","font":"Liberation Serif","fontSize":29,"fontWeight":"bold","color":"#111","anchor":"middle","offset":-71.5,"baseline":"middle","dx":-176},
"layer":[
{"layer":[
{"data":{"values":[{"zone":"high","lo":20.93,"hi":21.25},{"zone":"normal","lo":19.62,"hi":20.93},{"zone":"low","lo":18.0,"hi":19.62}]},"mark":{"type":"rect"},
"encoding":{
"x":{"datum":{"year":1900,"month":1,"date":1,"hours":12,"minutes":0,"seconds":0},"type":"temporal","scale":{"domain":[{"year":1900,"month":1,"date":1,"hours":10,"minutes":48,"seconds":34},{"year":1900,"month":1,"date":1,"hours":17,"minutes":28,"seconds":59}]},
"axis":{"orient":"top","offset":-72,"values":[{"year":1900,"month":1,"date":1,"hours":12,"minutes":0,"seconds":0},{"year":1900,"month":1,"date":1,"hours":12,"minutes":7,"seconds":30},{"year":1900,"month":1,"date":1,"hours":12,"minutes":15,"seconds":0},{"year":1900,"month":1,"date":1,"hours":12,"minutes":22,"seconds":30},{"year":1900,"month":1,"date":1,"hours":12,"minutes":30,"seconds":0},{"year":1900,"month":1,"date":1,"hours":12,"minutes":37,"seconds":30},{"year":1900,"month":1,"date":1,"hours":12,"minutes":45,"seconds":0},{"year":1900,"month":1,"date":1,"hours":12,"minutes":52,"seconds":30},{"year":1900,"month":1,"date":1,"hours":13,"minutes":0,"seconds":0},{"year":1900,"month":1,"date":1,"hours":13,"minutes":7,"seconds":30},{"year":1900,"month":1,"date":1,"hours":13,"minutes":15,"seconds":0},{"year":1900,"month":1,"date":1,"hours":13,"minutes":22,"seconds":30},{"year":1900,"month":1,"date":1,"hours":13,"minutes":30,"seconds":0},{"year":1900,"month":1,"date":1,"hours":13,"minutes":37,"seconds":30},{"year":1900,"month":1,"date":1,"hours":13,"minutes":45,"seconds":0},{"year":1900,"month":1,"date":1,"hours":13,"minutes":52,"seconds":30},{"year":1900,"month":1,"date":1,"hours":14,"minutes":0,"seconds":0},{"year":1900,"month":1,"date":1,"hours":14,"minutes":7,"seconds":30},{"year":1900,"month":1,"date":1,"hours":14,"minutes":15,"seconds":0},{"year":1900,"month":1,"date":1,"hours":14,"minutes":22,"seconds":30},{"year":1900,"month":1,"date":1,"hours":14,"minutes":30,"seconds":0}],"tickSize":-6,"tickColor":"#111","tickWidth":1.3,"labels":false,"title":null}},
"x2":{"datum":{"year":1900,"month":1,"date":1,"hours":14,"minutes":30,"seconds":0}},
"y":{"field":"lo","type":"quantitative","scale":{"domain":[3.1326,22.8047],"nice":false,"zero":false},
"axis":{"orient":"left","offset":-230.5,"values":[21.06,20.655,20.25,19.845,19.44,19.035,18.63,18.225],"labelExpr":"indexof([21.06,20.25,19.44,18.63], datum.value) >= 0 ? format(datum.value, '.2f') : ''","tickSize":-6,"tickColor":"#111","tickWidth":1.3,"labelPadding":17,"labelFont":"Liberation Sans","labelFontSize":16,"labelColor":"#111","title":"O2 (%)","titleFont":"Liberation Serif","titleFontSize":24,"titleFontWeight":"normal","titleColor":"#111","titleX":-76.5,"titleY":147.25,"titleAngle":-90,"titleAlign":"center","titleBaseline":"middle"}},
"y2":{"field":"hi"},
"color":{"field":"zone","type":"nominal","scale":{"domain":["high","normal","low"],"range":["#fdf4da","#e9f2e0","#fdf4da"]},"legend":null}}},
{"data":{"name":"o2","format":{"parse":{"t":"date:'%H:%M:%S'"}}},"mark":{"type":"line","color":"#111","strokeWidth":1.6},
"encoding":{
"x":{"field":"t","type":"temporal","axis":{"orient":"bottom","offset":-688.5,"values":[{"year":1900,"month":1,"date":1,"hours":12,"minutes":0,"seconds":0},{"year":1900,"month":1,"date":1,"hours":12,"minutes":7,"seconds":30},{"year":1900,"month":1,"date":1,"hours":12,"minutes":15,"seconds":0},{"year":1900,"month":1,"date":1,"hours":12,"minutes":22,"seconds":30},{"year":1900,"month":1,"date":1,"hours":12,"minutes":30,"seconds":0},{"year":1900,"month":1,"date":1,"hours":12,"minutes":37,"seconds":30},{"year":1900,"month":1,"date":1,"hours":12,"minutes":45,"seconds":0},{"year":1900,"month":1,"date":1,"hours":12,"minutes":52,"seconds":30},{"year":1900,"month":1,"date":1,"hours":13,"minutes":0,"seconds":0},{"year":1900,"month":1,"date":1,"hours":13,"minutes":7,"seconds":30},{"year":1900,"month":1,"date":1,"hours":13,"minutes":15,"seconds":0},{"year":1900,"month":1,"date":1,"hours":13,"minutes":22,"seconds":30},{"year":1900,"month":1,"date":1,"hours":13,"minutes":30,"seconds":0},{"year":1900,"month":1,"date":1,"hours":13,"minutes":37,"seconds":30},{"year":1900,"month":1,"date":1,"hours":13,"minutes":45,"seconds":0},{"year":1900,"month":1,"date":1,"hours":13,"minutes":52,"seconds":30},{"year":1900,"month":1,"date":1,"hours":14,"minutes":0,"seconds":0},{"year":1900,"month":1,"date":1,"hours":14,"minutes":7,"seconds":30},{"year":1900,"month":1,"date":1,"hours":14,"minutes":15,"seconds":0},{"year":1900,"month":1,"date":1,"hours":14,"minutes":22,"seconds":30},{"year":1900,"month":1,"date":1,"hours":14,"minutes":30,"seconds":0}],"tickSize":-6,"tickColor":"#111","tickWidth":1.3,"labels":false,"title":null}},
"y":{"field":"v","type":"quantitative","axis":{"orient":"right","offset":-577.5,"values":[21.06,20.655,20.25,19.845,19.44,19.035,18.63,18.225],"tickSize":-6,"tickColor":"#111","tickWidth":1.3,"labels":false,"title":null}}}},
{"data":{"values":[{"panel":"O2"}]},"mark":{"type":"rect","filled":false,"stroke":"#111","strokeWidth":1.6},
"encoding":{"x":{"datum":{"year":1900,"month":1,"date":1,"hours":12,"minutes":0,"seconds":0},"type":"temporal","axis":null},"x2":{"datum":{"year":1900,"month":1,"date":1,"hours":14,"minutes":30,"seconds":0}},"y":{"datum":18.0,"type":"quantitative","axis":null},"y2":{"datum":21.25}}},
{"data":{"values":[{"note":"Impaired Judgement & Breathing","v":21.02},{"note":"Normal","v":20.14},{"note":"Impaired Judgement & Breathing","v":18.73}]},"mark":{"type":"text","align":"left","baseline":"middle","dx":21.5,"font":"Liberation Serif","fontSize":26,"color":"#1a1a1a"},
"encoding":{"x":{"datum":{"year":1900,"month":1,"date":1,"hours":14,"minutes":30,"seconds":0},"type":"temporal","axis":null},"y":{"field":"v","type":"quantitative","axis":null},"text":{"field":"note"}}}
],"resolve":{"axis":{"x":"independent","y":"independent"}}},
{"layer":[
{"data":{"name":"nh3","format":{"parse":{"t":"date:'%H:%M:%S'"}}},"mark":{"type":"line","color":"#111","strokeWidth":1.6},
"encoding":{
"x":{"field":"t","type":"temporal","axis":{"orient":"bottom","offset":-538,"values":[{"year":1900,"month":1,"date":1,"hours":12,"minutes":0,"seconds":0},{"year":1900,"month":1,"date":1,"hours":12,"minutes":7,"seconds":30},{"year":1900,"month":1,"date":1,"hours":12,"minutes":15,"seconds":0},{"year":1900,"month":1,"date":1,"hours":12,"minutes":22,"seconds":30},{"year":1900,"month":1,"date":1,"hours":12,"minutes":30,"seconds":0},{"year":1900,"month":1,"date":1,"hours":12,"minutes":37,"seconds":30},{"year":1900,"month":1,"date":1,"hours":12,"minutes":45,"seconds":0},{"year":1900,"month":1,"date":1,"hours":12,"minutes":52,"seconds":30},{"year":1900,"month":1,"date":1,"hours":13,"minutes":0,"seconds":0},{"year":1900,"month":1,"date":1,"hours":13,"minutes":7,"seconds":30},{"year":1900,"month":1,"date":1,"hours":13,"minutes":15,"seconds":0},{"year":1900,"month":1,"date":1,"hours":13,"minutes":22,"seconds":30},{"year":1900,"month":1,"date":1,"hours":13,"minutes":30,"seconds":0},{"year":1900,"month":1,"date":1,"hours":13,"minutes":37,"seconds":30},{"year":1900,"month":1,"date":1,"hours":13,"minutes":45,"seconds":0},{"year":1900,"month":1,"date":1,"hours":13,"minutes":52,"seconds":30},{"year":1900,"month":1,"date":1,"hours":14,"minutes":0,"seconds":0},{"year":1900,"month":1,"date":1,"hours":14,"minutes":7,"seconds":30},{"year":1900,"month":1,"date":1,"hours":14,"minutes":15,"seconds":0},{"year":1900,"month":1,"date":1,"hours":14,"minutes":22,"seconds":30},{"year":1900,"month":1,"date":1,"hours":14,"minutes":30,"seconds":0}],"tickSize":-6,"tickColor":"#111","tickWidth":1.3,"labels":false,"title":null}},
"y":{"field":"v","type":"quantitative","scale":{"domain":[-31.2599,20.209],"nice":false,"zero":false},
"axis":{"orient":"left","offset":-230.5,"values":[6.3,5.25,4.2,3.15,2.1,1.05,0],"labelExpr":"indexof([6.3,4.2,2.1,0], datum.value) >= 0 ? format(datum.value, '.1f') : ''","tickSize":-6,"tickColor":"#111","tickWidth":1.3,"labelPadding":17,"labelFont":"Liberation Sans","labelFontSize":16,"labelColor":"#111","title":"NH3 (ppm)","titleFont":"Liberation Serif","titleFontSize":24,"titleFontWeight":"normal","titleColor":"#111","titleX":-76.5,"titleY":297.75,"titleAngle":-90,"titleAlign":"center","titleBaseline":"middle"}}}},
{"data":{"values":[{"panel":"NH3"}]},"mark":{"type":"rect","filled":false,"stroke":"#111","strokeWidth":1.6},
"encoding":{"x":{"datum":{"year":1900,"month":1,"date":1,"hours":12,"minutes":0,"seconds":0},"type":"temporal","axis":null},"x2":{"datum":{"year":1900,"month":1,"date":1,"hours":14,"minutes":30,"seconds":0}},"y":{"datum":-0.864,"type":"quantitative","axis":{"orient":"right","offset":-577.5,"values":[6.3,5.25,4.2,3.15,2.1,1.05,0],"tickSize":-6,"tickColor":"#111","tickWidth":1.3,"labels":false,"title":null}},"y2":{"datum":7.638}}}
],"resolve":{"axis":{"x":"independent","y":"independent"}}},
{"layer":[
{"data":{"name":"h2s","format":{"parse":{"t":"date:'%H:%M:%S'"}}},"mark":{"type":"line","color":"#111","strokeWidth":1.6},
"encoding":{
"x":{"field":"t","type":"temporal","axis":{"orient":"bottom","offset":-387.5,"values":[{"year":1900,"month":1,"date":1,"hours":12,"minutes":0,"seconds":0},{"year":1900,"month":1,"date":1,"hours":12,"minutes":7,"seconds":30},{"year":1900,"month":1,"date":1,"hours":12,"minutes":15,"seconds":0},{"year":1900,"month":1,"date":1,"hours":12,"minutes":22,"seconds":30},{"year":1900,"month":1,"date":1,"hours":12,"minutes":30,"seconds":0},{"year":1900,"month":1,"date":1,"hours":12,"minutes":37,"seconds":30},{"year":1900,"month":1,"date":1,"hours":12,"minutes":45,"seconds":0},{"year":1900,"month":1,"date":1,"hours":12,"minutes":52,"seconds":30},{"year":1900,"month":1,"date":1,"hours":13,"minutes":0,"seconds":0},{"year":1900,"month":1,"date":1,"hours":13,"minutes":7,"seconds":30},{"year":1900,"month":1,"date":1,"hours":13,"minutes":15,"seconds":0},{"year":1900,"month":1,"date":1,"hours":13,"minutes":22,"seconds":30},{"year":1900,"month":1,"date":1,"hours":13,"minutes":30,"seconds":0},{"year":1900,"month":1,"date":1,"hours":13,"minutes":37,"seconds":30},{"year":1900,"month":1,"date":1,"hours":13,"minutes":45,"seconds":0},{"year":1900,"month":1,"date":1,"hours":13,"minutes":52,"seconds":30},{"year":1900,"month":1,"date":1,"hours":14,"minutes":0,"seconds":0},{"year":1900,"month":1,"date":1,"hours":14,"minutes":7,"seconds":30},{"year":1900,"month":1,"date":1,"hours":14,"minutes":15,"seconds":0},{"year":1900,"month":1,"date":1,"hours":14,"minutes":22,"seconds":30},{"year":1900,"month":1,"date":1,"hours":14,"minutes":30,"seconds":0}],"tickSize":-6,"tickColor":"#111","tickWidth":1.3,"labels":false,"title":null}},
"y":{"field":"v","type":"quantitative","scale":{"domain":[-2.7803,3.4969],"nice":false,"zero":false},
"axis":{"orient":"left","offset":-230.5,"values":[0.78,0.65,0.52,0.39,0.26,0.13,0],"labelExpr":"indexof([0.78,0.52,0.26,0], datum.value) >= 0 ? format(datum.value, '.2f') : ''","tickSize":-6,"tickColor":"#111","tickWidth":1.3,"labelPadding":17,"labelFont":"Liberation Sans","labelFontSize":16,"labelColor":"#111","title":"H2S (ppm)","titleFont":"Liberation Serif","titleFontSize":24,"titleFontWeight":"normal","titleColor":"#111","titleX":-76.5,"titleY":448.25,"titleAngle":-90,"titleAlign":"center","titleBaseline":"middle"}}}},
{"data":{"values":[{"panel":"H2S"}]},"mark":{"type":"rect","filled":false,"stroke":"#111","strokeWidth":1.6},
"encoding":{"x":{"datum":{"year":1900,"month":1,"date":1,"hours":12,"minutes":0,"seconds":0},"type":"temporal","axis":null},"x2":{"datum":{"year":1900,"month":1,"date":1,"hours":14,"minutes":30,"seconds":0}},"y":{"datum":-0.1102,"type":"quantitative","axis":{"orient":"right","offset":-577.5,"values":[0.78,0.65,0.52,0.39,0.26,0.13,0],"tickSize":-6,"tickColor":"#111","tickWidth":1.3,"labels":false,"title":null}},"y2":{"datum":0.9268}}}
],"resolve":{"axis":{"x":"independent","y":"independent"}}},
{"layer":[
{"data":{"values":[{"zone":"c1","lo":112,"hi":215},{"zone":"c2","lo":215,"hi":410},{"zone":"c3","lo":410,"hi":565.8}]},"mark":{"type":"rect"},
"encoding":{
"x":{"datum":{"year":1900,"month":1,"date":1,"hours":12,"minutes":0,"seconds":0},"type":"temporal","axis":null},
"x2":{"datum":{"year":1900,"month":1,"date":1,"hours":14,"minutes":30,"seconds":0}},
"y":{"field":"lo","type":"quantitative","scale":{"domain":[-1055.8,2756.5],"nice":false,"zero":false},
"axis":{"orient":"left","offset":-230.5,"values":[480,400,320,240,160,80,0],"labelExpr":"indexof([480,320,160,0], datum.value) >= 0 ? format(datum.value, 'd') : ''","tickSize":-6,"tickColor":"#111","tickWidth":1.3,"labelPadding":17,"labelFont":"Liberation Sans","labelFontSize":16,"labelColor":"#111","title":"CO (ppm)","titleFont":"Liberation Serif","titleFontSize":24,"titleFontWeight":"normal","titleColor":"#111","titleX":-76.5,"titleY":598.75,"titleAngle":-90,"titleAlign":"center","titleBaseline":"middle"}},
"y2":{"field":"hi"},
"color":{"field":"zone","type":"nominal","scale":{"domain":["c1","c2","c3"],"range":["#fff7e2","#ffe9a8","#f7cdb6"]},"legend":null}}},
{"data":{"name":"co","format":{"parse":{"t":"date:'%H:%M:%S'"}}},"mark":{"type":"line","color":"#111","strokeWidth":1.6},
"encoding":{
"x":{"field":"t","type":"temporal","axis":{"orient":"bottom","offset":-237,"values":[{"year":1900,"month":1,"date":1,"hours":12,"minutes":0,"seconds":0},{"year":1900,"month":1,"date":1,"hours":12,"minutes":7,"seconds":30},{"year":1900,"month":1,"date":1,"hours":12,"minutes":15,"seconds":0},{"year":1900,"month":1,"date":1,"hours":12,"minutes":22,"seconds":30},{"year":1900,"month":1,"date":1,"hours":12,"minutes":30,"seconds":0},{"year":1900,"month":1,"date":1,"hours":12,"minutes":37,"seconds":30},{"year":1900,"month":1,"date":1,"hours":12,"minutes":45,"seconds":0},{"year":1900,"month":1,"date":1,"hours":12,"minutes":52,"seconds":30},{"year":1900,"month":1,"date":1,"hours":13,"minutes":0,"seconds":0},{"year":1900,"month":1,"date":1,"hours":13,"minutes":7,"seconds":30},{"year":1900,"month":1,"date":1,"hours":13,"minutes":15,"seconds":0},{"year":1900,"month":1,"date":1,"hours":13,"minutes":22,"seconds":30},{"year":1900,"month":1,"date":1,"hours":13,"minutes":30,"seconds":0},{"year":1900,"month":1,"date":1,"hours":13,"minutes":37,"seconds":30},{"year":1900,"month":1,"date":1,"hours":13,"minutes":45,"seconds":0},{"year":1900,"month":1,"date":1,"hours":13,"minutes":52,"seconds":30},{"year":1900,"month":1,"date":1,"hours":14,"minutes":0,"seconds":0},{"year":1900,"month":1,"date":1,"hours":14,"minutes":7,"seconds":30},{"year":1900,"month":1,"date":1,"hours":14,"minutes":15,"seconds":0},{"year":1900,"month":1,"date":1,"hours":14,"minutes":22,"seconds":30},{"year":1900,"month":1,"date":1,"hours":14,"minutes":30,"seconds":0}],"tickSize":-6,"tickColor":"#111","tickWidth":1.3,"labels":false,"title":null}},
"y":{"field":"v","type":"quantitative","axis":{"orient":"right","offset":-577.5,"values":[480,400,320,240,160,80,0],"tickSize":-6,"tickColor":"#111","tickWidth":1.3,"labels":false,"title":null}}}},
{"data":{"values":[{"panel":"CO"}]},"mark":{"type":"rect","filled":false,"stroke":"#111","strokeWidth":1.6},
"encoding":{"x":{"datum":{"year":1900,"month":1,"date":1,"hours":12,"minutes":0,"seconds":0},"type":"temporal","axis":null},"x2":{"datum":{"year":1900,"month":1,"date":1,"hours":14,"minutes":30,"seconds":0}},"y":{"datum":-64,"type":"quantitative","axis":null},"y2":{"datum":565.8}}},
{"data":{"values":[{"note":"Life threatening after 3 hours.","v":465},{"note":"Potential headache and disorientation.","v":310},{"note":"Permittable for several hours","v":160},{"note":"Permissible exposure level","v":12}]},"mark":{"type":"text","align":"left","baseline":"middle","dx":21.5,"font":"Liberation Serif","fontSize":26,"color":"#1a1a1a"},
"encoding":{"x":{"datum":{"year":1900,"month":1,"date":1,"hours":14,"minutes":30,"seconds":0},"type":"temporal","axis":null},"y":{"field":"v","type":"quantitative","axis":null},"text":{"field":"note"}}}
],"resolve":{"axis":{"x":"independent","y":"independent"}}},
{"layer":[
{"data":{"name":"ch4","format":{"parse":{"t":"date:'%H:%M:%S'"}}},"mark":{"type":"line","color":"#111","strokeWidth":1.6},
"encoding":{
"x":{"field":"t","type":"temporal","axis":{"orient":"bottom","offset":-87,"values":[{"year":1900,"month":1,"date":1,"hours":12,"minutes":0,"seconds":0},{"year":1900,"month":1,"date":1,"hours":12,"minutes":7,"seconds":30},{"year":1900,"month":1,"date":1,"hours":12,"minutes":15,"seconds":0},{"year":1900,"month":1,"date":1,"hours":12,"minutes":22,"seconds":30},{"year":1900,"month":1,"date":1,"hours":12,"minutes":30,"seconds":0},{"year":1900,"month":1,"date":1,"hours":12,"minutes":37,"seconds":30},{"year":1900,"month":1,"date":1,"hours":12,"minutes":45,"seconds":0},{"year":1900,"month":1,"date":1,"hours":12,"minutes":52,"seconds":30},{"year":1900,"month":1,"date":1,"hours":13,"minutes":0,"seconds":0},{"year":1900,"month":1,"date":1,"hours":13,"minutes":7,"seconds":30},{"year":1900,"month":1,"date":1,"hours":13,"minutes":15,"seconds":0},{"year":1900,"month":1,"date":1,"hours":13,"minutes":22,"seconds":30},{"year":1900,"month":1,"date":1,"hours":13,"minutes":30,"seconds":0},{"year":1900,"month":1,"date":1,"hours":13,"minutes":37,"seconds":30},{"year":1900,"month":1,"date":1,"hours":13,"minutes":45,"seconds":0},{"year":1900,"month":1,"date":1,"hours":13,"minutes":52,"seconds":30},{"year":1900,"month":1,"date":1,"hours":14,"minutes":0,"seconds":0},{"year":1900,"month":1,"date":1,"hours":14,"minutes":7,"seconds":30},{"year":1900,"month":1,"date":1,"hours":14,"minutes":15,"seconds":0},{"year":1900,"month":1,"date":1,"hours":14,"minutes":22,"seconds":30},{"year":1900,"month":1,"date":1,"hours":14,"minutes":30,"seconds":0}],"tickSize":-6,"tickColor":"#111","tickWidth":1.3,"labelExpr":"(minutes(datum.value) % 30 == 0 && seconds(datum.value) == 0) ? timeFormat(datum.value, '%H:%M') : ''","labelFont":"Liberation Sans","labelFontSize":19,"labelColor":"#111","labelPadding":18,"title":"Time of Day (AEST)","titleFont":"Liberation Serif","titleFontSize":25,"titleFontWeight":"normal","titleColor":"#111","titleX":468,"titleY":57,"titleAlign":"center","titleBaseline":"middle"}},
"y":{"field":"v","type":"quantitative","scale":{"domain":[-2.1639,10.0234],"nice":false,"zero":false},
"axis":{"orient":"left","offset":-230.5,"values":[1,0.75,0.5,0.25,0,-0.25,-0.5,-0.75,-1],"labelExpr":"indexof([1,0.5,0,-0.5,-1], datum.value) >= 0 ? format(datum.value, '.1f') : ''","tickSize":-6,"tickColor":"#111","tickWidth":1.3,"labelPadding":17,"labelFont":"Liberation Sans","labelFontSize":16,"labelColor":"#111","title":"CH4 (ppm)","titleFont":"Liberation Serif","titleFontSize":24,"titleFontWeight":"normal","titleColor":"#111","titleX":-76.5,"titleY":749.25,"titleAngle":-90,"titleAlign":"center","titleBaseline":"middle"}}}},
{"data":{"values":[{"panel":"CH4"}]},"mark":{"type":"rect","filled":false,"stroke":"#111","strokeWidth":1.6},
"encoding":{"x":{"datum":{"year":1900,"month":1,"date":1,"hours":12,"minutes":0,"seconds":0},"type":"temporal","axis":null},"x2":{"datum":{"year":1900,"month":1,"date":1,"hours":14,"minutes":30,"seconds":0}},"y":{"datum":-1,"type":"quantitative","axis":{"orient":"right","offset":-577.5,"values":[1,0.75,0.5,0.25,0,-0.25,-0.5,-0.75,-1],"tickSize":-6,"tickColor":"#111","tickWidth":1.3,"labels":false,"title":null}},"y2":{"datum":1}}}
],"resolve":{"axis":{"x":"independent","y":"independent"}}}
],
"resolve":{"scale":{"y":"independent","color":"independent"},"axis":{"x":"independent","y":"independent"}}}
]}
],"spacing":50,"center":true},
{"width":245,"height":1,"view":{"stroke":"#231f20","strokeWidth":2,"fill":"#231f20"},
"data":{"values":[{"page":"8"}]},
"mark":{"type":"text","font":"Liberation Serif","fontSize":22,"fontWeight":"bold","color":"#231f20","dy":19.5,"baseline":"middle"},
"encoding":{"text":{"field":"page"}}}
],
"spacing":265,
"center":true
}
